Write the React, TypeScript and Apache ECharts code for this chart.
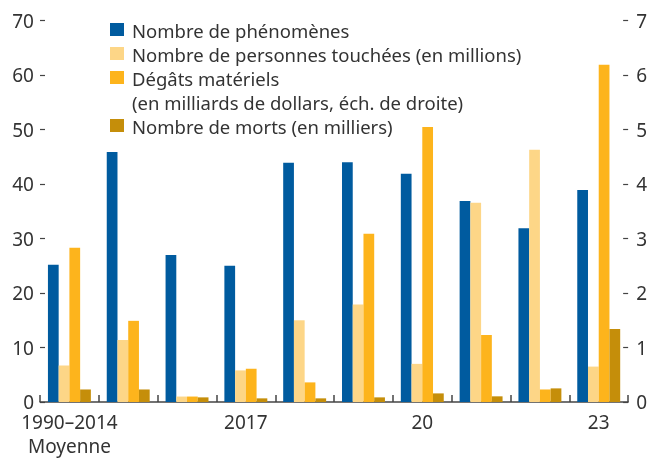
import React, { useEffect, useRef } from "react";
import * as echarts from "echarts";

const categories = ["1990–2014", "2015", "2016", "2017", "2018", "2019", "2020", "2021", "2022", "2023"];
const tickLabels = ["1990–2014\nMoyenne", "", "", "2017", "", "", "20", "", "", "23"];
const phenomenes = [25.2, 45.9, 27.0, 25.0, 43.9, 44.0, 41.9, 36.9, 31.9, 38.9];
const personnes = [6.7, 11.4, 1.0, 5.8, 15.0, 17.9, 7.0, 36.6, 46.3, 6.5];
const degats = [2.83, 1.49, 0.1, 0.61, 0.36, 3.09, 5.05, 1.23, 0.23, 6.19];
const morts = [2.3, 2.3, 0.85, 0.67, 0.67, 0.85, 1.58, 1.04, 2.5, 13.4];
const leftTicks = [0, 10, 20, 30, 40, 50, 60, 70];
const rightTicks = [0, 1, 2, 3, 4, 5, 6, 7];

const legendItems = [
  { name: "Nombre de phénomènes", color: "#005b9f", lines: ["Nombre de phénomènes"] },
  { name: "Nombre de personnes touchées (en millions)", color: "#fdd687", lines: ["Nombre de personnes touchées (en millions)"] },
  { name: "Dégâts matériels", color: "#fdb41c", lines: ["Dégâts matériels", "(en milliards de dollars, éch. de droite)"] },
  { name: "Nombre de morts (en milliers)", color: "#c58e0a", lines: ["Nombre de morts (en milliers)"] },
];

const FONT = "'Noto Sans', Lato, sans-serif";
const FS = 19;
const TEXT = "#333333";
const AXIS = "#444444";

export default function App() {
  const ref = useRef<HTMLDivElement>(null);
  useEffect(() => {
    if (!ref.current) return;
    const chart = echarts.init(ref.current, undefined, { renderer: "svg" });
    const graphics: any[] = [];
    let row = 0;
    legendItems.forEach((it) => {
      const y = 29.5 + row * 24;
      graphics.push({
        type: "rect",
        shape: { x: 110, y: y - 6.5, width: 14, height: 13 },
        style: { fill: it.color },
      });
      it.lines.forEach((ln, k) => {
        graphics.push({
          type: "text",
          x: 132,
          y: y + 1 + k * 24,
          style: {
            text: ln,
            fill: TEXT,
            fontSize: 18.5,
            fontFamily: FONT,
            lineHeight: 20,
            verticalAlign: "middle",
            align: "left",
          },
        });
      });
      row += it.lines.length;
    });
    const mkSeries = (name: string, data: number[], color: string, yAxisIndex: number) => ({
      name,
      type: "bar",
      data,
      yAxisIndex,
      barGap: "0%",
      barCategoryGap: "27%",
      itemStyle: { color },
    });
    chart.setOption({
      animation: false,
      grid: { left: 40, right: 18, top: 20.7, bottom: 52.3 },
      graphic: graphics,
      xAxis: {
        type: "category",
        data: categories,
        axisLine: { lineStyle: { color: AXIS, width: 1.5 } },
        axisTick: { show: true, inside: true, length: 7, interval: 0, lineStyle: { color: AXIS, width: 1.5 } },
        axisLabel: {
          interval: 0,
          formatter: (_v: string, i: number) => tickLabels[i],
          color: TEXT,
          fontSize: FS,
          fontFamily: FONT,
          lineHeight: 24,
          margin: 8,
        },
      },
      yAxis: [
        {
          type: "value",
          min: leftTicks[0],
          max: leftTicks[leftTicks.length - 1],
          interval: 10,
          splitLine: { show: false },
          axisLine: { show: false },
          axisTick: { show: true, inside: true, length: 5, lineStyle: { color: AXIS, width: 1.2 } },
          axisLabel: { color: TEXT, fontSize: FS, fontFamily: FONT, margin: 6, lineHeight: 12 },
        },
        {
          type: "value",
          position: "right",
          min: rightTicks[0],
          max: rightTicks[rightTicks.length - 1],
          interval: 1,
          splitLine: { show: false },
          axisLine: { show: false },
          axisTick: { show: true, inside: true, length: 5, lineStyle: { color: AXIS, width: 1.2 } },
          axisLabel: { color: TEXT, fontSize: FS, fontFamily: FONT, margin: 8, lineHeight: 12 },
        },
      ],
      series: [
        mkSeries(legendItems[0].name, phenomenes, legendItems[0].color, 0),
        mkSeries(legendItems[1].name, personnes, legendItems[1].color, 0),
        mkSeries(legendItems[2].name, degats, legendItems[2].color, 1),
        mkSeries(legendItems[3].name, morts, legendItems[3].color, 0),
      ],
    });
    return () => chart.dispose();
  }, []);
  return <div ref={ref} style={{ position: "fixed", left: 0, top: 0, width: 650, height: 458 }} />;
}
